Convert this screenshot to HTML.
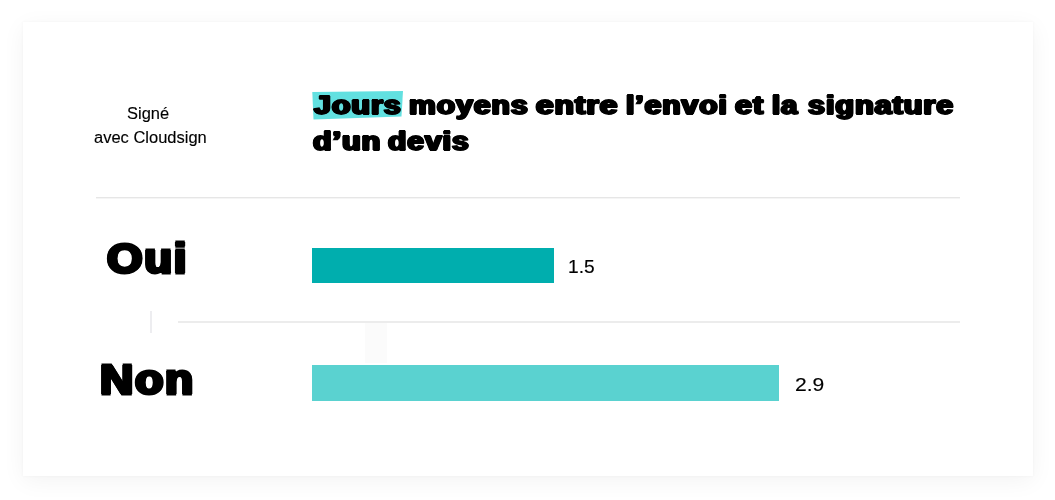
<!DOCTYPE html>
<html lang="fr">
<head>
<meta charset="utf-8">
<title>Jours moyens entre l’envoi et la signature d’un devis</title>
<style>
  html, body { margin:0; padding:0; }
  body { width:1055px; height:500px; background:#fff; position:relative; overflow:hidden;
         font-family:"Liberation Sans", sans-serif; color:#000; }
  .card { position:absolute; left:23px; top:22px; width:1010px; height:454px; background:#fff;
          box-shadow:0 5px 22px rgba(0,0,0,0.05), 0 0 3px rgba(0,0,0,0.04); }
  .w { position:absolute; white-space:nowrap; line-height:1; transform-origin:0 0; color:#000; }
  .title { font-size:27px; font-weight:700; -webkit-text-stroke:1.8px #000; letter-spacing:0.9px; text-shadow:1.4px 0 0 #000,-1.4px 0 0 #000,0.7px 0 0 #000,-0.7px 0 0 #000; }
  .big { font-size:42px; font-weight:700; -webkit-text-stroke:2.9px #000; letter-spacing:1.6px; text-shadow:1.9px 0 0 #000,-1.9px 0 0 #000,0.95px 0 0 #000,-0.95px 0 0 #000; }
  .sub { font-size:15px; font-weight:400; -webkit-text-stroke:0.12px #000; letter-spacing:0px; text-shadow:none; }
  .val { font-size:18px; font-weight:400; -webkit-text-stroke:0.15px #000; letter-spacing:0px; text-shadow:none; }
  .box { position:absolute; }
</style>
</head>
<body>
<div class="card"></div>

<!-- left header -->
<div class="hdr"><span class="w sub" style="left:126.98px;top:105.36px;transform:scale(1.0973,1.0605)">Signé</span> <span class="w sub" style="left:93.65px;top:129.34px;transform:scale(1.0993,1.0419)">avec Cloudsign</span></div>

<!-- highlight marker behind "Jours" -->
<svg class="box" style="left:300px;top:80px" width="120" height="50" viewBox="0 0 120 50">
  <polygon points="12.3,12 103,11 101.5,36.5 13.5,39.5" fill="#62e0e0"/>
</svg>

<!-- title -->
<h1 style="margin:0"><span class="w title" style="left:314.22px;top:92.11px;transform:scale(1.1236,0.9876)">Jours</span> <span class="w title" style="left:409.24px;top:92.11px;transform:scale(1.1134,0.9876)">moyens</span> <span class="w title" style="left:536.09px;top:92.11px;transform:scale(1.1673,0.9876)">entre</span> <span class="w title" style="left:625.55px;top:92.11px;transform:scale(1.1089,0.9876)">l’envoi</span> <span class="w title" style="left:734.88px;top:92.11px;transform:scale(1.1314,0.9876)">et</span> <span class="w title" style="left:772.16px;top:92.11px;transform:scale(1.0816,0.9876)">la</span> <span class="w title" style="left:807.68px;top:92.11px;transform:scale(1.1282,0.9876)">signature</span>
<span class="w title" style="left:313.08px;top:128.13px;transform:scale(1.1264,0.9793)">d’un</span> <span class="w title" style="left:387.88px;top:128.13px;transform:scale(1.1099,0.9793)">devis</span></h1>

<!-- separators -->
<div class="box" style="left:96px;top:197px;width:864px;height:1px;background:#e6e6e6"></div>
<div class="box" style="left:96px;top:198px;width:864px;height:1px;background:#f5f5f5"></div>
<div class="box" style="left:178px;top:321px;width:782px;height:2px;background:#ececec"></div>
<div class="box" style="left:150px;top:311px;width:2px;height:22px;background:#ededf0"></div>
<div class="box" style="left:365px;top:323px;width:22px;height:40px;background:#fbfbfb"></div>

<!-- row 1 -->
<span class="w big" style="left:107.07px;top:236.95px;transform:scale(1.0855,1.0299)">Oui</span>
<div class="box" style="left:312px;top:248px;width:242px;height:35px;background:#00aeae"></div>
<span class="w val" style="left:568.17px;top:257.69px;transform:scale(1.0652,1.0039)">1.5</span>

<!-- row 2 -->
<span class="w big" style="left:99.8px;top:358.34px;transform:scale(1.0988,1.0236)">Non</span>
<div class="box" style="left:312px;top:365px;width:467px;height:36px;background:#5ad2d0"></div>
<span class="w val" style="left:795.32px;top:375.72px;transform:scale(1.1702,1.0154)">2.9</span>
</body>
</html>
